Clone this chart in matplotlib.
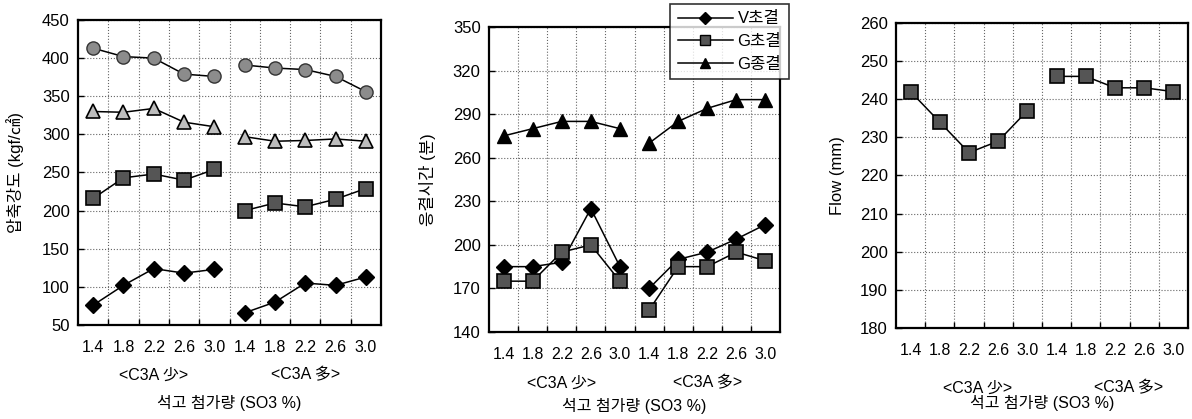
import numpy as np
import matplotlib
matplotlib.use('Agg')
import matplotlib.pyplot as plt
from matplotlib.lines import Line2D

plt.rcParams['font.family'] = ['Liberation Sans', 'Noto Sans CJK KR', 'DejaVu Sans']

# ── Data ──────────────────────────────────────────────────────────────────────
so3 = ['1.4', '1.8', '2.2', '2.6', '3.0']
groups = ['<C3A 少>', '<C3A 多>']

# compressive strength (kgf/cm2), [C3A low, C3A high]
str_circ = [[413, 402, 400, 379, 376], [391, 387, 385, 376, 356]]
str_tri = [[330, 329, 334, 316, 310], [297, 291, 292, 294, 291]]
str_sq = [[216, 243, 248, 240, 254], [200, 210, 205, 215, 229]]
str_dia = [[76, 102, 124, 118, 123], [66, 80, 105, 102, 113]]

# setting time (min)
set_v = [[185, 185, 188, 225, 185], [170, 190, 195, 204, 214]]
set_gi = [[175, 175, 195, 200, 175], [155, 185, 185, 195, 189]]
set_gf = [[275, 280, 285, 285, 280], [270, 285, 294, 300, 300]]
set_names = ['V초결', 'G초결', 'G종결']

# flow (mm)
flow = [[242, 234, 226, 229, 237], [246, 246, 243, 243, 242]]

# ── Layout ────────────────────────────────────────────────────────────────────
W, H = 1192, 419
fig = plt.figure(figsize=(W / 100, H / 100), dpi=100)


def px_axes(x0, y0, x1, y1):
    return fig.add_axes([x0 / W, 1 - y1 / H, (x1 - x0) / W, (y1 - y0) / H])


def setup(ax, ylim, ystep, ylabel, grp_dy, xl_dy, grp_x=(2, 7)):
    ax.set_xlim(-0.5, 9.5)
    ax.set_ylim(*ylim)
    ax.set_yticks(np.arange(ylim[0], ylim[1] + 1, ystep))
    ax.set_xticks(range(10))
    ax.set_xticklabels(so3 * 2)
    ax.set_xticks(np.arange(0.5, 9, 1), minor=True)
    ax.tick_params(axis='x', which='major', length=0, pad=11, labelsize=11.5)
    ax.tick_params(axis='x', which='minor', direction='in', length=4, width=1)
    ax.tick_params(axis='y', direction='in', length=4, width=1, pad=6, labelsize=12)
    ax.grid(True, which='minor', axis='x', ls=':', color='#666', lw=0.8)
    ax.grid(True, which='major', axis='y', ls=':', color='#666', lw=0.8)
    ax.set_axisbelow(True)
    for s in ax.spines.values():
        s.set_linewidth(1.6)
    ax.set_ylabel(ylabel, fontsize=12)
    for gx, g in zip(grp_x, groups):
        ax.annotate(g, (gx, 0), xycoords=('data', 'axes fraction'),
                    xytext=(0, -grp_dy * 0.72), textcoords='offset points',
                    ha='center', va='center', fontsize=11.5)
    ax.annotate('석고 첨가량 (SO3 %)', (0.5, 0), xycoords='axes fraction',
                xytext=(0, -xl_dy * 0.72), textcoords='offset points',
                ha='center', va='center', fontsize=11.5)


def draw(ax, data, **kw):
    for i, vals in enumerate(data):
        ax.plot(range(i * 5, i * 5 + 5), vals, color='black', lw=1.1,
                clip_on=False, zorder=3, **kw)


# left: compressive strength
ax1 = px_axes(78, 20, 381, 325)
setup(ax1, (50, 450), 50, '압축강도 (kgf/㎠)', 50, 78)
draw(ax1, str_circ, marker='o', ms=9.5, mfc='#8c8c8c', mec='#333', mew=1)
draw(ax1, str_tri, marker='^', ms=10, mfc='#bdbdbd', mec='black', mew=1.2)
draw(ax1, str_sq, marker='s', ms=9.5, mfc='#555', mec='black', mew=1.2)
draw(ax1, str_dia, marker='D', ms=8, mfc='black', mec='black')
ax1.yaxis.set_label_coords(-54 / 303, 0.5)

# middle: setting time
ax2 = px_axes(489, 27, 780, 332)
setup(ax2, (140, 350), 30, '응결시간 (분)', 51, 74)
draw(ax2, set_v, marker='D', ms=8, mfc='black', mec='black')
draw(ax2, set_gi, marker='s', ms=9.5, mfc='#555', mec='black', mew=1.2)
draw(ax2, set_gf, marker='^', ms=10, mfc='black', mec='black')
ax2.yaxis.set_label_coords(-53 / 291, 0.5)

handles = [
    Line2D([], [], color='black', lw=1.1, marker='D', ms=6, mfc='black'),
    Line2D([], [], color='black', lw=1.1, marker='s', ms=7, mfc='#555', mec='black'),
    Line2D([], [], color='black', lw=1.1, marker='^', ms=7, mfc='black'),
]
leg = fig.legend(handles, set_names, loc='upper left',
                 bbox_to_anchor=(670 / W, 1 - 4 / H), fontsize=12,
                 frameon=True, fancybox=False, edgecolor='black',
                 handlelength=3.3, handletextpad=0.3, labelspacing=0.45,
                 borderpad=0.45, borderaxespad=0)
leg.get_frame().set_linewidth(1.2)

# right: flow
ax3 = px_axes(896, 23, 1188, 328)
setup(ax3, (180, 260), 10, 'Flow (mm)', 60, 75, grp_x=(2.3, 7.45))
draw(ax3, flow, marker='s', ms=9.5, mfc='#555', mec='black', mew=1.2)
ax3.yaxis.set_label_coords(-51 / 292, 0.5)

fig.savefig('out.png', dpi=100)
